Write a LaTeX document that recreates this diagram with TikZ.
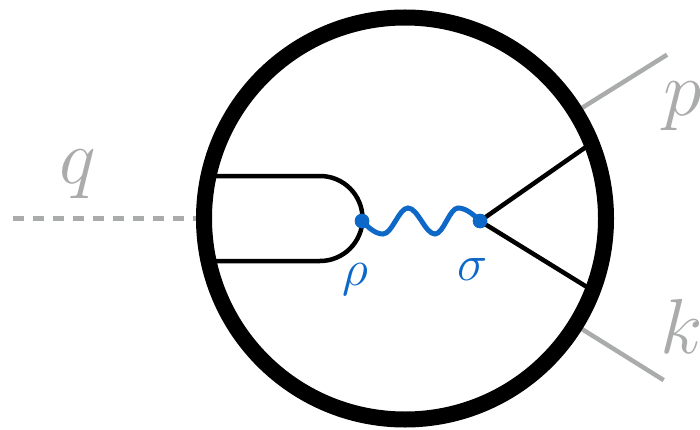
\documentclass[tikz,border=0pt]{standalone}
\usepackage{fix-cm}
\usepackage{tikz}
\usetikzlibrary{calc}
\definecolor{lgray}{RGB}{170,172,171}
\definecolor{vblue}{RGB}{13,104,200}
\tikzstyle{blob}=[draw=black, line width=16pt]
\tikzstyle{fermion}=[draw=black, line width=4.5pt]
\tikzstyle{ext}=[draw=lgray, line width=4.5pt]
\tikzstyle{vertex}=[circle, fill=vblue, minimum size=14.5pt, inner sep=0pt]
\tikzstyle{photon}=[draw=vblue, line width=5pt]
\tikzstyle{mom}=[text=lgray, inner sep=0pt, font=\fontsize{78}{78}\selectfont]
\tikzstyle{idx}=[text=vblue, inner sep=0pt, font=\fontsize{51}{51}\selectfont]

\begin{document}
\begin{tikzpicture}[x=10pt, y=10pt]
    \useasboundingbox (0,0) rectangle (70,42.9);

    %blob
    \coordinate (O) at (40.5,21.05);
    \coordinate (qin) at (1.3,21.05);
    \coordinate (qout) at ($(O)+(180:20.1)$);

    %loop
    \coordinate (top) at (20.9,25.3);
    \coordinate (bot) at (20.9,16.8);
    \draw[fermion] (top) -- (32,25.3) arc (90:-90:4.25) -- (bot);

    %vertices
    \node[vertex] (rho) at (36.2,20.8) {};
    \node[vertex] (sigma) at (48.0,20.8) {};
    \coordinate (up) at ($(O)+(22:20.1)$);
    \coordinate (dn) at ($(O)+(-21:20.1)$);
    \draw[fermion] (sigma.center) -- (up);
    \draw[fermion] (sigma.center) -- (dn);

    %external legs
    \coordinate (pin) at ($(O)+(32:20.1)$);
    \coordinate (pout) at ($(O)+(32:30.9)$);
    \coordinate (kin) at ($(O)+(-32:20.1)$);
    \coordinate (kout) at ($(O)+(-32:30.5)$);
    \draw[ext] (pin) -- (pout);
    \draw[ext] (kin) -- (kout);
    \draw[ext, line width=5pt, dash pattern=on 11pt off 9pt] (qin) -- (qout);

    \draw[blob] (O) circle (20.1);

    %photon
    \draw[photon] (rho.center) .. controls +(0.7,-0.7) and +(-0.75,0) .. (38.3,19.5)
        .. controls +(0.91,0) and +(-0.91,0) .. (40.8,22.1)
        .. controls +(0.98,0) and +(-0.98,0) .. (43.5,19.5)
        .. controls +(0.84,0) and +(-0.84,0) .. (45.8,22.1)
        .. controls +(0.75,0) and +(-0.7,0.7) .. (sigma.center);
    \node[vertex] at (rho) {};
    \node[vertex] at (sigma) {};

    %labels
    \node[mom, anchor=base] (qlab) at (7.8,24.6) {$q$};
    \node[mom, anchor=base west] (plab) at (66.3,31.3) {$p$};
    \node[mom, anchor=base west] (klab) at (66.0,7.6) {$k$};
    \node[idx, anchor=base] (rholab) at (35.55,14.4) {$\rho$};
    \node[idx, anchor=base] (sigmalab) at (47.25,14.9) {$\sigma$};

\end{tikzpicture}
\end{document}
